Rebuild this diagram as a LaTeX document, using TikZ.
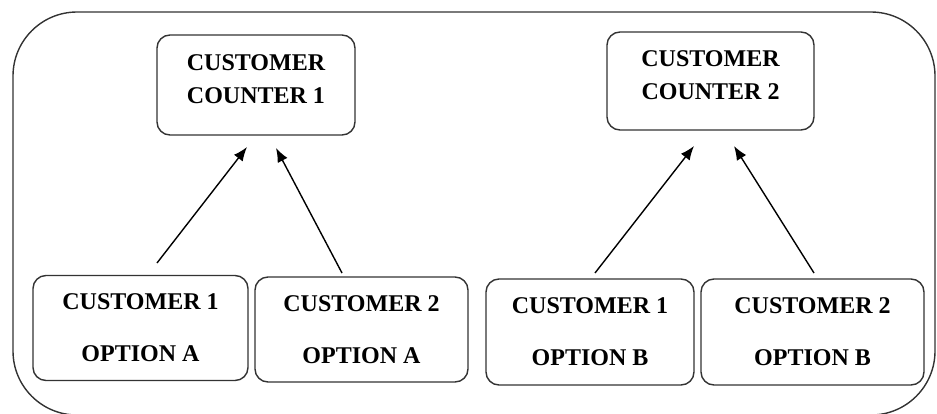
\documentclass[tikz,border=0pt]{standalone}
\usepackage{fontspec}
\setmainfont{Liberation Serif}
\usetikzlibrary{shapes,arrows.meta}

\begin{document}
\begin{tikzpicture}[x=0.5pt,y=-0.5pt]
        \tikzstyle{custbox}=[rectangle,rounded corners=6.5pt,draw=black!80,line width=0.7pt,align=center,
                font=\bfseries\fontsize{12}{16.5}\selectfont]
        \tikzstyle{cntbox}=[custbox,text depth=5.5pt]
        \tikzstyle{every path}=[line width=0.7pt]
        \useasboundingbox (0,0) rectangle (937,413);
        \draw[rounded corners=32pt,draw=black!80] (13,12) rectangle (935,415);
        % counters
        \node[cntbox,minimum width=99pt,minimum height=50pt] (cnt1) at (256,85) {CUSTOMER\\COUNTER 1};
        \node[cntbox,minimum width=103.5pt,minimum height=49pt] (cnt2) at (710.5,81) {CUSTOMER\\COUNTER 2};
        % options
        \node[custbox,minimum width=107.5pt,minimum height=52.5pt] (c1a) at (140.5,328) {CUSTOMER 1\\[9.5pt]OPTION A};
        \node[custbox,minimum width=106.5pt,minimum height=52.5pt] (c2a) at (361.5,329.5) {CUSTOMER 2\\[9.5pt]OPTION A};
        \node[custbox,minimum width=104pt,minimum height=53pt] (c1b) at (590,332) {CUSTOMER 1\\[9.5pt]OPTION B};
        \node[custbox,minimum width=111.5pt,minimum height=53pt] (c2b) at (812.5,332) {CUSTOMER 2\\[9.5pt]OPTION B};
        % arrow ends
        \coordinate (t1) at (157,263); \coordinate (h1) at (247,147);
        \coordinate (t2) at (342,273); \coordinate (h2) at (276,148);
        \coordinate (t3) at (595,273); \coordinate (h3) at (694,146);
        \coordinate (t4) at (814,273); \coordinate (h4) at (734,146);
        \foreach \i in {1,...,4}
                \draw[-{Latex[length=7pt,width=5.5pt]}] (t\i) -- (h\i);
\end{tikzpicture}
\end{document}
